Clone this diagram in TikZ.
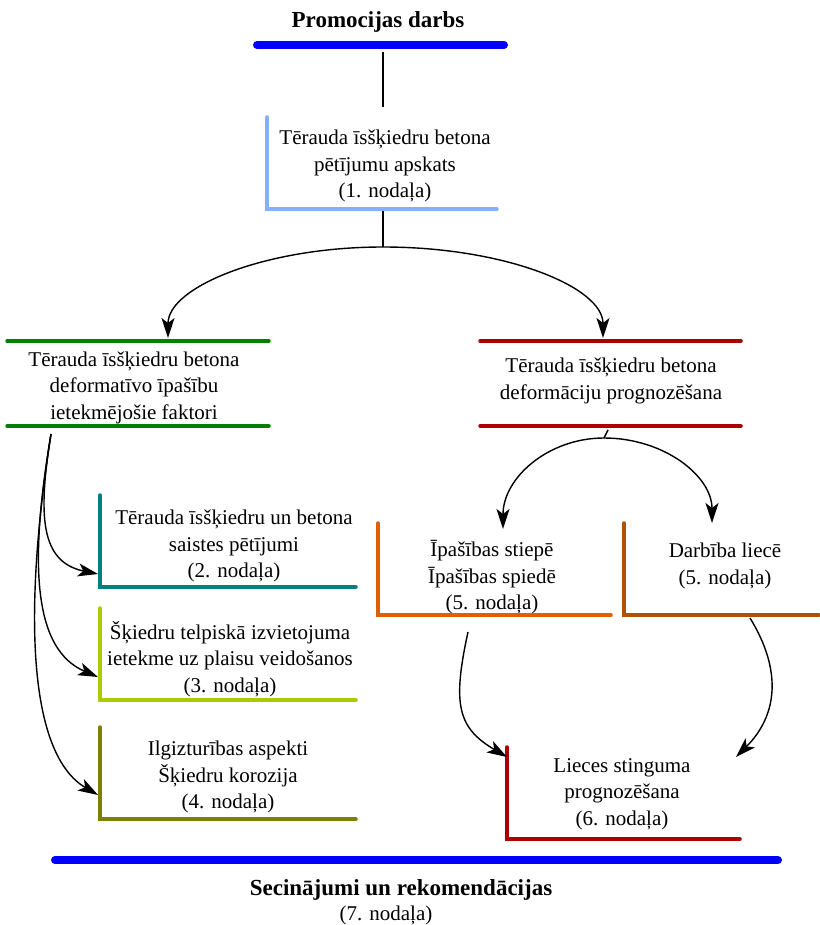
\documentclass[tikz,border=0pt]{standalone}
\usepackage{fontspec}
\setmainfont{Liberation Serif}
\usetikzlibrary{arrows.meta}
\definecolor{barblue}{HTML}{0000FF}
\definecolor{lblue}{HTML}{80B2FF}
\definecolor{dgreen}{HTML}{008000}
\definecolor{dred}{HTML}{AA0000}
\definecolor{tealc}{HTML}{008080}
\definecolor{ygreen}{HTML}{AACC00}
\definecolor{olivec}{HTML}{808000}
\definecolor{orng}{HTML}{E06000}
\definecolor{brwn}{HTML}{B05000}
\tikzset{
  txt/.style={align=center, inner sep=0pt, font=\fontsize{21}{26.5}\selectfont},
  btxt/.style={align=center, inner sep=0pt, font=\fontsize{23}{26}\selectfont\bfseries},
  boxline/.style={line width=3.5pt, line cap=round, line join=miter},
  bar/.style={line width=8pt, line cap=round, draw=barblue},
  link/.style={line width=1.4pt},
  arr/.style={link, -{Stealth[length=20pt, width=13pt, inset=5pt]}}
}
\begin{document}
\begin{tikzpicture}[x=1pt,y=-1pt]
\useasboundingbox (0,0) rectangle (819,925);

% title
\node[btxt] (title) at (378,22) {Promocijas darbs};
\draw[bar] (257,45) -- (504,45);

% box 1
\node[txt] (n1) at (385,166) {Tērauda īsšķiedru betona\\pētījumu apskats\\(1. nodaļa)};
\draw[boxline, draw=lblue] (267,117) -- (267,209) -- (497,209);

% green box
\node[txt] (n2) at (134,387.5) {Tērauda īsšķiedru betona\\deformatīvo īpašību\\ietekmējošie faktori};
\draw[boxline, draw=dgreen] (7,341) -- (269,341);
\draw[boxline, draw=dgreen] (7,426) -- (269,426);

% red box
\node[txt] (n3) at (611,381) {Tērauda īsšķiedru betona\\deformāciju prognozēšana};
\draw[boxline, draw=dred] (480,341) -- (741,341);
\draw[boxline, draw=dred] (480,426) -- (741,426);

% teal box
\node[txt] (n4) at (234,546) {Tērauda īsšķiedru un betona\\saistes pētījumi\\(2. nodaļa)};
\draw[boxline, draw=tealc] (100,495) -- (100,587) -- (356,587);

% yellow-green box
\node[txt] (n5) at (230,659) {Šķiedru telpiskā izvietojuma\\ietekme uz plaisu veidošanos\\(3. nodaļa)};
\draw[boxline, draw=ygreen] (100,608) -- (100,700) -- (356,700);

% olive box
\node[txt] (n6) at (228,777) {Ilgizturības aspekti\\Šķiedru korozija\\(4. nodaļa)};
\draw[boxline, draw=olivec] (100,727) -- (100,819) -- (356,819);

% orange box
\node[txt] (n7) at (492,577.5) {Īpašības stiepē\\Īpašības spiedē\\(5. nodaļa)};
\draw[boxline, draw=orng] (378,523) -- (378,615) -- (611,615);

% brown box
\node[txt] (n8) at (725,566) {Darbība liecē\\(5. nodaļa)};
\draw[boxline, draw=brwn] (624,523) -- (624,615) -- (819,615);

% red box 6
\node[txt] (n9) at (622,794) {Lieces stinguma\\prognozēšana\\(6. nodaļa)};
\draw[boxline, draw=dred] (507,747) -- (507,839) -- (740,839);

% bottom bar and conclusion
\draw[bar] (55,860) -- (778,860);
\node[btxt] (concl) at (401,890) {Secinājumi un rekomendācijas};
\node[txt] (concl7) at (386,915) {(7. nodaļa)};

% connectors
\coordinate (a0) at (383,52);
\coordinate (a1) at (383,107);
\draw[link] (a0) -- (a1);
\coordinate (b0) at (383,211);
\coordinate (b1) at (383,247);
\draw[link] (b0) -- (b1);
\coordinate (gL) at (168,338);
\coordinate (rR) at (603,338);
\draw[arr] (b1) .. controls (265,247) and (168,287) .. (gL);
\draw[arr] (b1) .. controls (505,247) and (603,287) .. (rR);

\coordinate (g0) at (51,434);
\coordinate (t4) at (98,574);
\coordinate (t5) at (98,677);
\coordinate (t6) at (98,795);
\draw[arr] (g0) .. controls (38,515) and (40,562) .. (t4);
\draw[arr] (g0) .. controls (28,570) and (35,650) .. (t5);
\draw[arr] (g0) .. controls (22,620) and (30,755) .. (t6);

\coordinate (r0) at (608,430);
\coordinate (r1) at (604,438);
\coordinate (t7) at (503,529);
\coordinate (t8) at (712,523);
\draw[link] (r0) -- (r1);
\draw[arr] (r1) .. controls (548,438) and (503,478) .. (t7);
\draw[arr] (r1) .. controls (664,438) and (712,476) .. (t8);

\coordinate (o0) at (468,632);
\coordinate (w0) at (750,618);
\coordinate (t9a) at (507,757);
\coordinate (t9b) at (736,757);
\draw[arr] (o0) .. controls (452,705) and (458,728) .. (t9a);
\draw[arr] (w0) .. controls (782,670) and (778,715) .. (t9b);
\end{tikzpicture}
\end{document}
